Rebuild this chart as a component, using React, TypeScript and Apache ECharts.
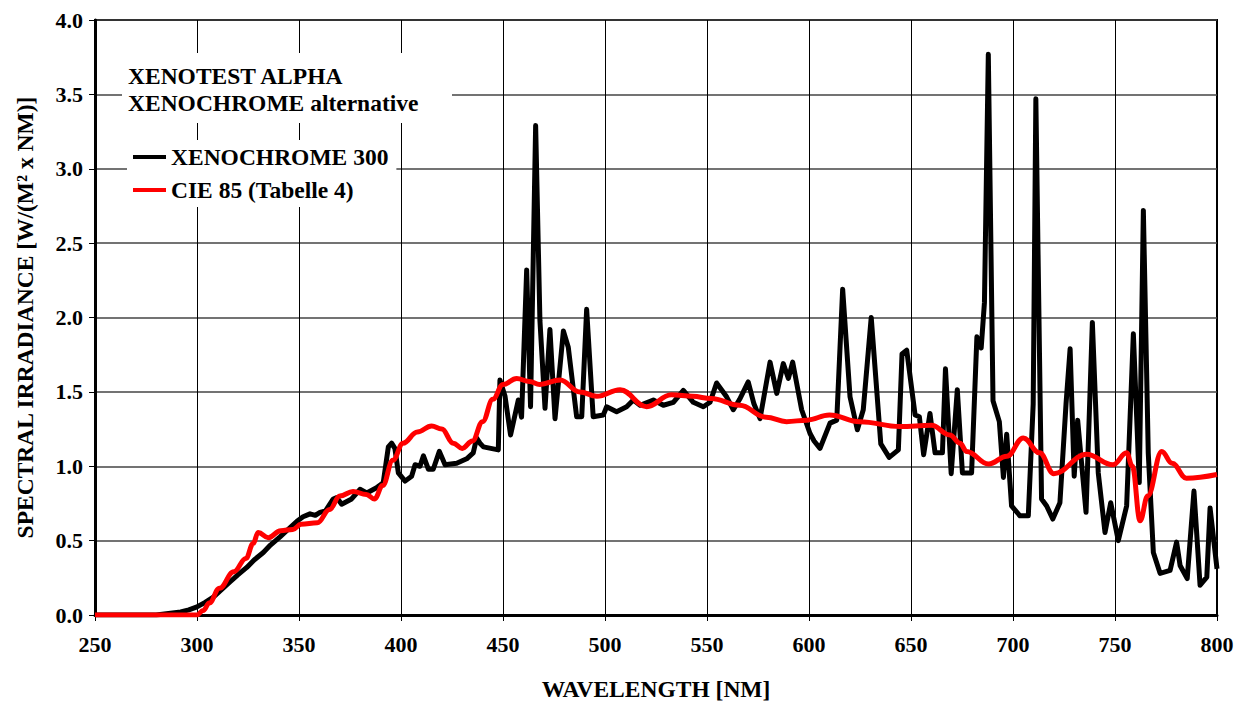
import React, { useEffect, useRef } from "react";
import * as echarts from "echarts";

const FONT = '"Liberation Serif", "Times New Roman", serif';

// CIE 85 (Tabelle 4) — wavelength [nm] and irradiance
const cieNm = [250, 295, 300, 303, 306, 311, 318, 324, 327.5, 330, 335, 341, 347, 351, 359, 365, 370, 376.5, 383, 387, 391, 396, 401, 408, 415, 420, 425.6, 430, 435, 440, 445, 450, 456.7, 463, 468, 478, 487.7, 496, 507.4, 520.4, 532.5, 543, 552, 566, 579, 589, 599, 610, 625, 644.6, 660, 669, 674, 677.3, 688, 697, 705, 713, 720, 736, 749, 755.7, 758.5, 762.3, 766, 772.9, 778, 785, 800];
const cieVal = [0, 0, 0.0, 0.03, 0.08, 0.18, 0.29, 0.38, 0.48, 0.555, 0.52, 0.567, 0.575, 0.61, 0.62, 0.71, 0.8, 0.83, 0.81, 0.78, 0.87, 1.04, 1.155, 1.23, 1.27, 1.25, 1.155, 1.12, 1.17, 1.3, 1.45, 1.55, 1.59, 1.57, 1.55, 1.58, 1.5, 1.47, 1.515, 1.4, 1.48, 1.47, 1.455, 1.41, 1.33, 1.3, 1.31, 1.345, 1.3, 1.267, 1.275, 1.21, 1.155, 1.1, 1.015, 1.067, 1.19, 1.09, 0.95, 1.08, 1.01, 1.09, 1.0, 0.633, 0.8, 1.1, 1.02, 0.92, 0.945];

// XENOCHROME 300 — wavelength [nm] and irradiance
const xenoNm = [250, 280, 286, 292, 296, 300, 304, 308, 312, 316, 320, 324.4, 328, 332.5, 336, 340.7, 345, 349, 352, 355.4, 358, 360.3, 363, 366.8, 368.5, 370.9, 375.8, 379.9, 383.2, 388, 391.3, 393.8, 395.4, 397, 398.7, 402, 405.2, 406.9, 409.3, 411, 413.4, 415.8, 418.8, 421.6, 427.3, 432.2, 435.4, 437.1, 438.7, 440.4, 444, 447.7, 448.5, 451, 453.7, 457.5, 459.1, 461.6, 463.5, 466, 468.1, 470.6, 473, 475.5, 479.6, 482, 486.1, 488.6, 491, 494.2, 499.2, 500.8, 505.7, 510.6, 513.9, 517.2, 523.7, 528.6, 533.5, 538.4, 543.3, 548.2, 551.5, 554.7, 559.6, 562.9, 566, 570.2, 573, 576, 580.9, 584.2, 587.4, 589.9, 592, 596.4, 600.5, 602.5, 605.4, 610.3, 613.6, 616.5, 620.1, 623.7, 626.6, 630.5, 635.2, 639.3, 643.8, 645.6, 647.9, 652, 654.1, 656.2, 659.3, 661.8, 665.4, 666.9, 669.7, 672.7, 675.2, 679.7, 682.3, 684.4, 686, 687.9, 690.2, 693.3, 695.3, 696.9, 699.3, 703.4, 707.5, 709.9, 711.2, 714, 716.5, 719.5, 723, 726, 728, 730, 731.7, 735.8, 738.9, 741.8, 745.1, 747.9, 751.6, 755.7, 759, 761.9, 763.9, 766.3, 768.8, 772.1, 777, 780.2, 781.9, 785.4, 788.7, 791.7, 795, 796.6, 800];
const xenoVal = [0, 0, 0.01, 0.02, 0.035, 0.055, 0.085, 0.12, 0.17, 0.22, 0.27, 0.32, 0.37, 0.42, 0.47, 0.525, 0.58, 0.63, 0.66, 0.68, 0.67, 0.69, 0.7, 0.78, 0.79, 0.745, 0.78, 0.845, 0.82, 0.855, 0.89, 1.13, 1.155, 1.12, 0.955, 0.9, 0.933, 1.01, 1.0, 1.07, 0.98, 0.98, 1.1, 1.01, 1.02, 1.05, 1.09, 1.19, 1.155, 1.13, 1.12, 1.11, 1.58, 1.47, 1.21, 1.445, 1.33, 2.32, 1.4, 3.29, 1.98, 1.39, 1.92, 1.32, 1.91, 1.8, 1.333, 1.333, 2.055, 1.333, 1.345, 1.4, 1.367, 1.4, 1.445, 1.41, 1.445, 1.41, 1.43, 1.51, 1.43, 1.4, 1.43, 1.56, 1.467, 1.38, 1.45, 1.567, 1.42, 1.32, 1.7, 1.49, 1.69, 1.59, 1.7, 1.38, 1.22, 1.17, 1.12, 1.29, 1.31, 2.19, 1.467, 1.245, 1.38, 2.0, 1.15, 1.06, 1.11, 1.755, 1.78, 1.345, 1.333, 1.078, 1.355, 1.09, 1.09, 1.655, 0.95, 1.515, 0.955, 0.955, 1.87, 1.795, 2.1, 3.77, 1.44, 1.3, 0.925, 1.215, 0.733, 0.667, 0.667, 1.42, 3.47, 0.78, 0.733, 0.645, 0.755, 1.42, 1.79, 0.933, 1.31, 0.69, 1.967, 0.955, 0.555, 0.755, 0.5, 0.733, 1.89, 0.89, 2.72, 1.09, 0.42, 0.28, 0.3, 0.49, 0.333, 0.245, 0.833, 0.2, 0.255, 0.72, 0.31];

const titleLines = ["XENOTEST ALPHA", "XENOCHROME alternative"];
const seriesNames = ["XENOCHROME 300", "CIE 85 (Tabelle 4)"];
const xAxisName = "WAVELENGTH [NM]";
const yAxisName = "SPECTRAL IRRADIANCE [W/(M² x NM)]";

export default function App() {
  const ref = useRef<HTMLDivElement>(null);

  useEffect(() => {
    document.body.style.margin = "0";
    document.body.style.overflow = "hidden";
    if (!ref.current) return;
    const chart = echarts.init(ref.current, null, { renderer: "svg" });
    const xeno = xenoNm.map((x, i) => [x, xenoVal[i]]);
    const cie = cieNm.map((x, i) => [x, cieVal[i]]);
    const labelStyle = { fontFamily: FONT, fontWeight: "bold" as const, fontSize: 22, color: "#000" };
    const nameStyle = { fontFamily: FONT, fontWeight: "bold" as const, fontSize: 23.5, color: "#000" };

    chart.setOption({
      animation: false,
      backgroundColor: "#fff",
      grid: {
        left: 95, right: 25, top: 20, bottom: 86,
        show: true, borderColor: "#000", borderWidth: 2, backgroundColor: "transparent",
      },
      legend: {
        orient: "vertical",
        left: 127, top: 140,
        padding: [5, 8, 5, 6],
        itemGap: 9,
        itemWidth: 33, itemHeight: 4,
        icon: "rect",
        backgroundColor: "#fff",
        data: seriesNames,
        textStyle: { fontFamily: FONT, fontWeight: "bold", fontSize: 23.5, color: "#000" },
      },
      graphic: [
        { type: "rect", shape: { x: 122, y: 53, width: 330, height: 70 }, style: { fill: "#fff" }, z: 10 },
        { type: "text", x: 128, y: 76, style: { text: titleLines[0], font: `bold 23.5px ${FONT}`, fill: "#000", textVerticalAlign: "middle" }, z: 11 },
        { type: "text", x: 128, y: 103, style: { text: titleLines[1], font: `bold 23.5px ${FONT}`, fill: "#000", textVerticalAlign: "middle" }, z: 11 },
      ],
      xAxis: {
        type: "value", min: 250, max: 800, interval: 50,
        name: xAxisName, nameLocation: "middle", nameGap: 62,
        nameTextStyle: nameStyle,
        axisLine: { show: true, onZero: false, lineStyle: { color: "#000", width: 3 } },
        axisTick: { show: true, length: 6, lineStyle: { color: "#000", width: 1 } },
        axisLabel: { ...labelStyle, margin: 18 },
        splitLine: { show: true, lineStyle: { color: "#000", width: 1 } },
      },
      yAxis: {
        type: "value", min: 0, max: 4, interval: 0.5,
        name: yAxisName, nameLocation: "middle", nameGap: 58,
        nameTextStyle: nameStyle,
        axisLine: { show: true, lineStyle: { color: "#000", width: 3 } },
        axisTick: { show: true, length: 6, lineStyle: { color: "#000", width: 1 } },
        axisLabel: { ...labelStyle, margin: 12, formatter: (v: number) => v.toFixed(1) },
        splitLine: { show: true, lineStyle: { color: "#444", width: 1.5 } },
      },
      series: [
        {
          name: seriesNames[0], type: "line", data: xeno, showSymbol: false,
          lineStyle: { color: "#000", width: 5, join: "round" }, itemStyle: { color: "#000" }, z: 3,
        },
        {
          name: seriesNames[1], type: "line", data: cie, showSymbol: false,
          smooth: 0.4, smoothMonotone: "x",
          lineStyle: { color: "#ff0000", width: 5 }, itemStyle: { color: "#ff0000" }, z: 4,
        },
      ],
    });
    return () => chart.dispose();
  }, []);

  return <div ref={ref} style={{ width: 1242, height: 706 }} />;
}
